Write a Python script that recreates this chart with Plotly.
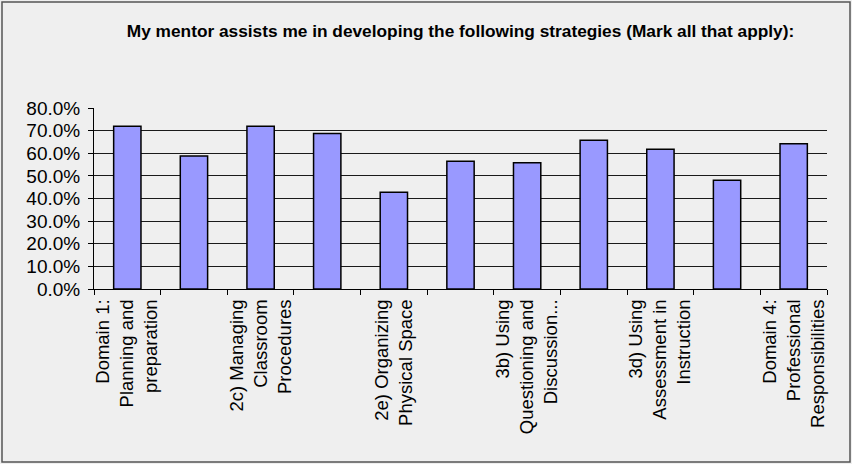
import plotly.graph_objects as go

categories = [
    "Domain 1: Planning and preparation",
    "2a) Creating an Environment of Respect and Rapport",
    "2c) Managing Classroom Procedures",
    "2d) Managing Student Behavior",
    "2e) Organizing Physical Space",
    "3a) Communicating with Students",
    "3b) Using Questioning and Discussion Techniques",
    "3c) Engaging Students in Learning",
    "3d) Using Assessment in Instruction",
    "3e) Demonstrating Flexibility and Responsiveness",
    "Domain 4: Professional Responsibilities",
]
values = [0.719, 0.588, 0.719, 0.687, 0.428, 0.565, 0.558, 0.657, 0.618, 0.481, 0.642]
tick_labels = [
    "Domain 1:<br>Planning and<br>preparation", "",
    "2c) Managing<br>Classroom<br>Procedures", "",
    "2e) Organizing<br>Physical Space", "",
    "3b) Using<br>Questioning and<br>Discussion...", "",
    "3d) Using<br>Assessment in<br>Instruction", "",
    "Domain 4:<br>Professional<br>Responsibilities",
]
y_ticks = [0, 0.1, 0.2, 0.3, 0.4, 0.5, 0.6, 0.7, 0.8]
title = "My mentor assists me in developing the following strategies (Mark all that apply):"

W, H = 852, 464
ml, mr, mt, mb = 94, 25, 108, 175
pw, ph = W - ml - mr, H - mt - mb

fig = go.Figure(go.Bar(
    x=categories, y=values,
    marker=dict(color="#9999ff", line=dict(color="#000000", width=1.5)),
    width=0.41,
))

font = "Liberation Sans, Arial, sans-serif"
fig.update_layout(
    width=W, height=H,
    margin=dict(l=ml, r=mr, t=mt, b=mb),
    paper_bgcolor="#efefef", plot_bgcolor="#efefef",
    font=dict(family=font, size=19, color="#000000"),
    showlegend=False,
    title=dict(text="<b>" + title + "</b>", x=(ml + pw / 2) / W, xanchor="center",
               y=1 - 31 / H, yanchor="middle",
               font=dict(family=font, size=17.3, color="#000000")),
    xaxis=dict(
        type="category", tickmode="array", tickvals=categories, ticktext=tick_labels,
        tickangle=-90, tickson="boundaries", ticks="outside", ticklen=5,
        tickcolor="#000000", showline=True, linecolor="#000000", linewidth=1,
        showgrid=False, range=[-0.5, len(categories) - 0.5],
        tickfont=dict(family=font, size=18.5), ticklabelstandoff=2,
    ),
    yaxis=dict(
        range=[0, 0.8], tickvals=y_ticks, tickformat=".1%",
        ticks="outside", ticklen=5, tickcolor="#000000",
        showline=True, linecolor="#000000", linewidth=1,
        showgrid=True, gridcolor="#1a1a1a", gridwidth=1, zeroline=False,
        tickfont=dict(family=font, size=19), ticklabelstandoff=4,
    ),
    shapes=[dict(type="rect", xref="paper", yref="paper",
                 x0=-(ml - 2) / pw, x1=1 + (mr - 2) / pw,
                 y0=-(mb - 2) / ph, y1=1 + (mt - 2) / ph,
                 line=dict(color="#555555", width=1.5), layer="below")],
)

fig.write_html("out.html", config={"displayModeBar": False},
               post_script="document.body.style.margin='0';")
